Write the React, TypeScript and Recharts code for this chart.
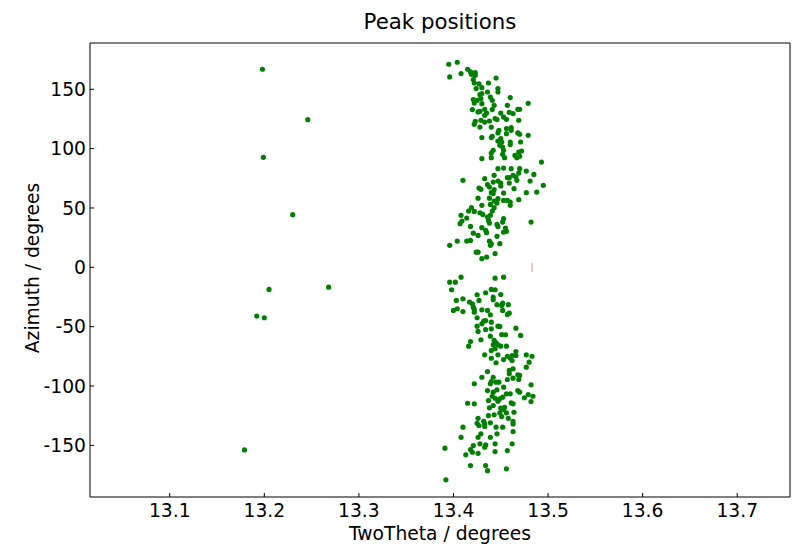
import { ScatterChart, Scatter, XAxis, YAxis, Label } from 'recharts';

const FONT = '"DejaVu Sans", sans-serif';
const GREEN = '#008000';

// [twoTheta, azimuth] pairs
const strayPeaks: [number, number][] = [
  [13.198, 166.9], [13.246, 124.4], [13.199, 92.7], [13.23, 44.4], [13.205, -18.6],
  [13.268, -16.7], [13.192, -41.1], [13.2, -42.5], [13.179, -153.8],
];

const upperPeaksA: [number, number][] = [
  [13.395, 171.1], [13.404, 172.8], [13.396, 160.4], [13.408, 163.2], [13.415, 166.9], [13.418, 164.6],
  [13.423, 164.1], [13.419, 162.6], [13.423, 161.8], [13.445, 159.5], [13.421, 158.2], [13.422, 155.3],
  [13.427, 154.5], [13.437, 155.3], [13.424, 150.6], [13.43, 151.4], [13.447, 150.6], [13.447, 147.7],
  [13.436, 147.7], [13.428, 145.5], [13.43, 146.4], [13.421, 141.3], [13.425, 140.7], [13.429, 142.2],
  [13.439, 143.5], [13.441, 140.7], [13.422, 138.4], [13.43, 137.9], [13.46, 143.0], [13.443, 136.5],
  [13.457, 136.5], [13.479, 138.2], [13.433, 133.1], [13.42, 132.9], [13.426, 130.9], [13.428, 131.5],
  [13.435, 130.0], [13.441, 132.9], [13.45, 130.0], [13.459, 130.6], [13.463, 129.5], [13.468, 133.1],
  [13.47, 133.1], [13.433, 128.1], [13.453, 126.6], [13.456, 124.7], [13.444, 125.3], [13.446, 124.5],
  [13.429, 123.9], [13.438, 123.3], [13.423, 123.0], [13.469, 123.9], [13.433, 122.4], [13.422, 120.5],
  [13.428, 118.2], [13.44, 118.2], [13.456, 116.9], [13.461, 117.7], [13.461, 115.4], [13.448, 115.4],
  [13.447, 113.2], [13.456, 112.6], [13.468, 113.2], [13.47, 112.1], [13.479, 111.2], [13.43, 109.3],
  [13.44, 109.3], [13.441, 110.4], [13.45, 108.4], [13.447, 106.4], [13.451, 105.6], [13.46, 105.6],
  [13.46, 103.4], [13.471, 105.6], [13.449, 102.8], [13.452, 101.3], [13.453, 98.6], [13.44, 96.3],
  [13.442, 98.6], [13.469, 97.1], [13.465, 94.3], [13.472, 98.0], [13.43, 91.6], [13.44, 92.4],
  [13.454, 92.4], [13.467, 92.4], [13.47, 93.5],
];

const upperPeaksB: [number, number][] = [
  [13.452, 95.2], [13.493, 88.7], [13.447, 83.1], [13.453, 83.6], [13.461, 83.1], [13.47, 83.1],
  [13.469, 79.4], [13.477, 81.1], [13.463, 77.5], [13.466, 76.0], [13.457, 75.5], [13.459, 75.5],
  [13.433, 74.7], [13.443, 77.5], [13.485, 78.3], [13.41, 73.3], [13.467, 73.3], [13.481, 72.7],
  [13.442, 71.8], [13.447, 72.7], [13.45, 71.0], [13.459, 71.0], [13.436, 69.6], [13.438, 67.6],
  [13.427, 66.8], [13.429, 65.7], [13.443, 65.4], [13.45, 68.5], [13.464, 66.3], [13.495, 69.1],
  [13.44, 62.9], [13.442, 62.1], [13.453, 62.6], [13.477, 62.9], [13.488, 63.4], [13.426, 58.3],
  [13.438, 58.3], [13.447, 57.8], [13.443, 55.8], [13.453, 56.4], [13.457, 56.4], [13.46, 55.0],
  [13.469, 57.0], [13.439, 53.0], [13.446, 54.1], [13.46, 52.2], [13.43, 52.2], [13.419, 50.3],
  [13.416, 47.4], [13.443, 50.3], [13.422, 47.1], [13.428, 46.0], [13.441, 47.4], [13.431, 44.6],
  [13.408, 43.8], [13.436, 42.3], [13.439, 43.8], [13.414, 41.5], [13.437, 39.5], [13.453, 41.0],
  [13.409, 39.0], [13.407, 36.8], [13.438, 37.3], [13.446, 36.2], [13.452, 38.1], [13.482, 38.1],
  [13.418, 34.5], [13.43, 33.4], [13.447, 34.5], [13.455, 33.1], [13.434, 31.1], [13.435, 29.2],
  [13.456, 30.3], [13.453, 29.7], [13.421, 28.8], [13.426, 26.9], [13.446, 26.1], [13.404, 22.1],
  [13.414, 22.1], [13.418, 22.7], [13.438, 22.1], [13.44, 19.9], [13.449, 19.9], [13.396, 18.5],
  [13.439, 18.5], [13.424, 12.8], [13.426, 12.8], [13.444, 11.5], [13.43, 7.3], [13.435, 8.6],
];

const lowerPeaksA: [number, number][] = [
  [13.396, -12.5], [13.402, -12.5], [13.408, -8.3], [13.444, -9.1], [13.453, -8.3], [13.398, -18.9],
  [13.44, -18.6], [13.444, -18.9], [13.434, -21.4], [13.45, -22.9], [13.425, -23.1], [13.442, -25.1],
  [13.442, -27.3], [13.41, -26.5], [13.403, -27.9], [13.417, -29.3], [13.427, -27.9], [13.42, -30.7],
  [13.446, -31.5], [13.452, -30.2], [13.458, -31.5], [13.451, -32.1], [13.421, -33.6], [13.422, -35.5],
  [13.4, -36.3], [13.404, -34.9], [13.41, -37.2], [13.43, -35.8], [13.436, -36.3], [13.439, -40.0],
  [13.422, -37.8], [13.452, -36.3], [13.459, -38.6], [13.457, -39.7], [13.425, -42.5], [13.432, -45.4],
  [13.434, -44.8], [13.43, -47.6], [13.44, -46.2], [13.447, -49.6], [13.449, -49.8], [13.425, -49.6],
  [13.434, -52.4], [13.44, -51.8], [13.466, -51.3], [13.426, -54.0], [13.451, -56.6], [13.455, -56.8],
  [13.439, -58.0], [13.471, -57.4], [13.443, -61.6], [13.418, -62.5], [13.429, -61.0], [13.445, -63.6],
  [13.442, -65.3], [13.447, -65.3], [13.416, -66.4], [13.45, -66.4], [13.456, -66.4], [13.444, -68.6],
  [13.44, -70.1], [13.466, -70.9], [13.433, -73.7], [13.447, -73.7], [13.457, -74.9], [13.462, -74.3],
  [13.466, -74.3], [13.477, -73.7], [13.483, -74.9], [13.46, -76.6], [13.453, -77.7], [13.44, -76.6],
  [13.462, -78.5], [13.445, -80.4], [13.48, -79.9],
];

const lowerPeaksB: [number, number][] = [
  [13.477, -84.1], [13.459, -86.9], [13.463, -85.5], [13.459, -89.7], [13.436, -87.8], [13.43, -92.6],
  [13.442, -92.6], [13.47, -91.1], [13.468, -90.6], [13.463, -93.4], [13.457, -94.5], [13.469, -94.5],
  [13.44, -96.2], [13.439, -98.1], [13.445, -96.8], [13.448, -96.8], [13.453, -101.0], [13.422, -98.1],
  [13.482, -99.0], [13.436, -103.8], [13.442, -105.2], [13.446, -103.2], [13.468, -103.8], [13.47, -105.2],
  [13.456, -106.6], [13.46, -106.6], [13.479, -107.2], [13.484, -108.6], [13.475, -109.9], [13.441, -108.6],
  [13.444, -110.3], [13.449, -110.8], [13.452, -109.4], [13.437, -112.2], [13.447, -112.8], [13.482, -113.1],
  [13.461, -114.2], [13.463, -115.0], [13.415, -114.5], [13.422, -115.0], [13.442, -116.4], [13.438, -118.4],
  [13.45, -118.7], [13.453, -119.8], [13.454, -117.9], [13.464, -122.1], [13.449, -122.6], [13.456, -122.6],
  [13.437, -124.9], [13.443, -124.3], [13.451, -125.7], [13.458, -127.2], [13.426, -127.2], [13.432, -129.7],
  [13.463, -129.7], [13.425, -131.4], [13.433, -131.9], [13.439, -131.0], [13.41, -134.7], [13.427, -133.3],
  [13.433, -134.1], [13.445, -134.7], [13.452, -134.7], [13.463, -131.9], [13.429, -140.3], [13.446, -140.3],
  [13.463, -138.4], [13.426, -143.2], [13.439, -143.2], [13.408, -143.2], [13.428, -148.7], [13.434, -149.6],
  [13.421, -150.2], [13.444, -148.7], [13.462, -148.7], [13.433, -151.6], [13.391, -152.4], [13.418, -153.5],
  [13.42, -155.8], [13.426, -156.7], [13.413, -158.0], [13.444, -155.2], [13.457, -154.4], [13.418, -167.0],
  [13.434, -167.0], [13.436, -171.3], [13.456, -169.8], [13.392, -179.0],
];

// reference position marker
const refPosition: [number, number][] = [[13.483, 0]];

const xTicks = [13.1, 13.2, 13.3, 13.4, 13.5, 13.6, 13.7];
const yTicks = [-150, -100, -50, 0, 50, 100, 150];
const xDomain: [number, number] = [13.0157, 13.7558];
const yDomain: [number, number] = [-193.5, 189];

const toPoints = (rows: [number, number][]) => rows.map(([x, y]) => ({ x, y }));
const peaks = toPoints([...strayPeaks, ...upperPeaksA, ...upperPeaksB, ...lowerPeaksA, ...lowerPeaksB]);

const tickStyle = { fill: '#000', fontSize: 18.7, fontFamily: FONT };
const black = { stroke: '#000', strokeWidth: 1 };

const PeakDot = (props: any) => <circle cx={props.cx} cy={props.cy} r={2.6} fill={GREEN} />;
const RefMark = (props: any) => (
  <line x1={props.cx} x2={props.cx} y1={props.cy - 4.5} y2={props.cy + 4.5} stroke="#f08a8a" strokeWidth={1} />
);
const Nothing = () => null;

export default function App() {
  return (
    <div style={{ position: 'absolute', left: 0, top: 0, width: 795, height: 546, background: '#fff' }}>
      <ScatterChart width={795} height={546} margin={{ top: 42, right: 4, bottom: 0, left: 0 }}>
        <XAxis
          xAxisId={0}
          type="number"
          dataKey="x"
          domain={xDomain}
          ticks={xTicks}
          interval={0}
          allowDataOverflow
          height={49}
          tickSize={-4}
          tickMargin={10.5}
          tickFormatter={(v: number) => v.toFixed(1)}
          axisLine={black}
          tickLine={black}
          tick={tickStyle}
        >
          <Label
            content={() => (
              <g>
                <text x={440} y={539.5} textAnchor="middle" fontSize={18.7} fontFamily={FONT} fill="#000">
                  TwoTheta / degrees
                </text>
                <text x={440} y={29.3} textAnchor="middle" fontSize={21.3} fontFamily={FONT} fill="#000">
                  Peak positions
                </text>
              </g>
            )}
          />
        </XAxis>
        <XAxis
          xAxisId="top"
          orientation="top"
          type="number"
          dataKey="x"
          domain={xDomain}
          ticks={xTicks}
          interval={0}
          allowDataOverflow
          height={1}
          tickSize={-4}
          axisLine={black}
          tickLine={black}
          tick={false}
        />
        <YAxis
          yAxisId={0}
          type="number"
          dataKey="y"
          domain={yDomain}
          ticks={yTicks}
          interval={0}
          allowDataOverflow
          width={90}
          tickSize={-4}
          tickMargin={8}
          axisLine={black}
          tickLine={black}
          tick={tickStyle}
        >
          <Label
            content={() => (
              <text
                transform="translate(38.5 268) rotate(-90)"
                textAnchor="middle"
                fontSize={18.7}
                fontFamily={FONT}
                fill="#000"
              >
                Azimuth / degrees
              </text>
            )}
          />
        </YAxis>
        <YAxis
          yAxisId="right"
          orientation="right"
          type="number"
          dataKey="y"
          domain={yDomain}
          ticks={yTicks}
          interval={0}
          allowDataOverflow
          width={1}
          tickSize={-4}
          axisLine={black}
          tickLine={black}
          tick={false}
        />
        {/* keeps the top and right frame axes attached to the same data */}
        <Scatter data={peaks} xAxisId="top" yAxisId="right" shape={Nothing} isAnimationActive={false} />
        <Scatter data={peaks} shape={PeakDot} isAnimationActive={false} />
        <Scatter data={toPoints(refPosition)} shape={RefMark} isAnimationActive={false} />
      </ScatterChart>
    </div>
  );
}
